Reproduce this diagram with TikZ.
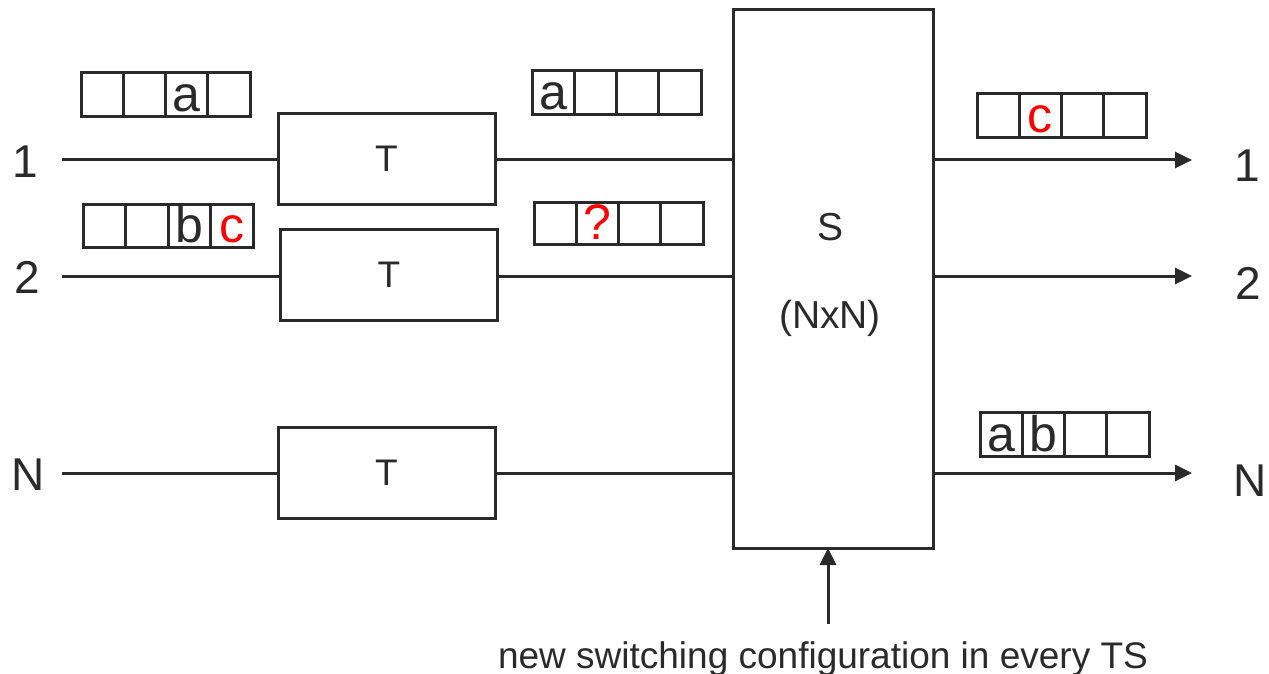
\documentclass[tikz,border=0pt]{standalone}
\usepackage{fontspec}
\setmainfont{Liberation Sans}
\usetikzlibrary{arrows.meta}
\definecolor{dk}{HTML}{2A2A2A}
\definecolor{rd}{HTML}{FF0000}
\newcommand{\tsbuf}[9]{%
  \pgfmathsetmacro{\cw}{(#4-#2)/4}%
  \pgfmathsetmacro{\ch}{#5-#3}%
  \foreach \i/\t in {1/{#6},2/{#7},3/{#8},4/{#9}}{%
    \node[cell, minimum width=\cw pt, minimum height=\ch pt] (#1-\i) at ({#2+(\i-0.5)*\cw}, {(#3+#5)/2}) {};
    \node[buftext, anchor=base] (#1-t\i) at ({#2+(\i-0.5)*\cw}, {#5-5}) {\t};
  }%
}
\begin{document}
\begin{tikzpicture}[x=1pt,y=-1pt,
  line width=3pt, draw=dk, text=dk,
  tbox/.style={draw=dk, line width=3pt, rectangle, inner sep=0pt, outer sep=0pt,
     minimum width=217pt, minimum height=91pt, font=\fontsize{37}{40}\selectfont},
  sbox/.style={draw=dk, line width=3pt, rectangle, inner sep=0pt, outer sep=0pt,
     minimum width=200pt, minimum height=538pt},
  cell/.style={draw=dk, line width=3pt, rectangle, inner sep=0pt, outer sep=0pt},
  buftext/.style={inner sep=0pt, font=\fontsize{50}{54}\selectfont, text=dk},
  lbl/.style={inner sep=0pt, font=\fontsize{46}{50}\selectfont, text=dk},
  stxt/.style={inner sep=0pt, font=\fontsize{39}{42}\selectfont, text=dk},
  arr/.style={-{Triangle[length=17pt,width=16pt]}, draw=dk, fill=dk, line width=3pt},
  ln/.style={draw=dk, line width=3pt}
]
\useasboundingbox (0,0) rectangle (1269,674);

% switch
\node[sbox] (S) at (833,279) {};
\node[stxt] (Stxt) at (830,227) {S};
\node[stxt] (NxN) at (830,318) {(NxN)};

% T boxes
\node[tbox] (T1) at (386.5,159) {T};
\node[tbox] (T2) at (389,275) {T};
\node[tbox] (T3) at (386.5,473) {T};

% input labels
\node[lbl, anchor=base] (l1) at (25,178) {1};
\node[lbl, anchor=base] (l2) at (27.5,293) {2};
\node[lbl, anchor=base] (lN) at (28,490) {N};

% output labels
\node[lbl, anchor=base] (r1) at (1247,182) {1};
\node[lbl, anchor=base] (r2) at (1248,299) {2};
\node[lbl, anchor=base] (rN) at (1250,496) {N};

% input lines
\coordinate (in1) at (62,160);
\coordinate (in2) at (62,276);
\coordinate (inN) at (62,473);
\draw[ln] (in1) -- (in1 -| T1.west);
\draw[ln] (in2) -- (in2 -| T2.west);
\draw[ln] (inN) -- (inN -| T3.west);

% T to S
\draw[ln] (T1.east |- in1) -- (in1 -| S.west);
\draw[ln] (T2.east |- in2) -- (in2 -| S.west);
\draw[ln] (T3.east |- inN) -- (inN -| S.west);

% outputs
\coordinate (out1) at (1192,160);
\coordinate (out2) at (1192,276);
\coordinate (outN) at (1192,473);
\draw[arr] (S.east |- out1) -- (out1);
\draw[arr] (S.east |- out2) -- (out2);
\draw[arr] (S.east |- outN) -- (outN);

% control arrow
\coordinate (cfg) at (828,624);
\draw[arr] (cfg) -- (cfg |- S.south);
\node[inner sep=0pt, anchor=base, font=\fontsize{37}{40}\selectfont, text=dk] (cfgtxt) at (823,668) {new switching configuration in every TS};

% buffers
\tsbuf{B1}{81}{73}{250}{117}{}{}{a}{}
\tsbuf{B2}{83}{204}{253}{247}{}{}{b}{\color{rd}c}
\tsbuf{B3}{532}{71}{701}{115}{a}{}{}{}
\tsbuf{B4}{534}{202}{703}{244}{}{\color{rd}?}{}{}
\tsbuf{B5}{977}{94}{1146}{138}{}{\color{rd}c}{}{}
\tsbuf{B6}{980}{412}{1149}{456}{a}{b}{}{}
\end{tikzpicture}
\end{document}
